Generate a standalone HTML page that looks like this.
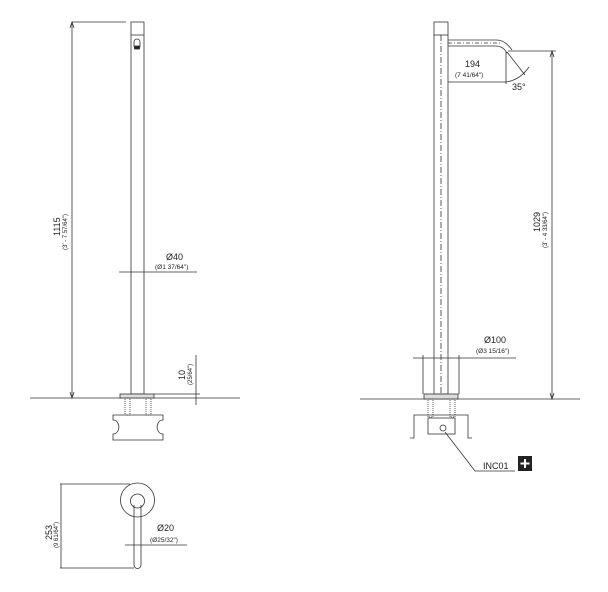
<!DOCTYPE html>
<html><head><style>body{margin:0;background:#fff}svg{display:block}text{font-family:"Liberation Sans",sans-serif;fill:#222}</style></head>
<body>
<svg width="608" height="592" viewBox="0 0 608 592" xmlns="http://www.w3.org/2000/svg" stroke="#333" fill="none" stroke-width="0.8">
<!-- LEFT VIEW -->
<line x1="30" y1="398" x2="240" y2="398"/>
<rect x="131" y="22" width="13" height="372"/>
<line x1="131" y1="35" x2="144" y2="35"/>
<rect x="134" y="39" width="6" height="10" rx="3"/>
<rect x="134.5" y="46" width="5" height="3" fill="#222"/>
<rect x="120" y="394" width="34" height="4" fill="#ddd"/>
<line x1="72" y1="22" x2="126" y2="22"/>
<line x1="72" y1="22" x2="72" y2="398"/>
<path d="M70 28 L72 22 L74 28 M70 392 L72 398 L74 392"/>
<text x="0" y="0" font-size="9" stroke="none" transform="translate(60 236) rotate(-90)">1115</text>
<text x="0" y="0" font-size="6" stroke="none" transform="translate(67 250) rotate(-90)">(3' - 7 57/64")</text>
<line x1="119" y1="272" x2="197" y2="272"/>
<text x="166" y="260" font-size="9" stroke="none">Ø40</text>
<text x="155" y="269" font-size="6.5" stroke="none">(Ø1 37/64")</text>
<line x1="154" y1="394" x2="200" y2="394"/>
<line x1="196" y1="355" x2="196" y2="405"/>
<text x="0" y="0" font-size="9" stroke="none" transform="translate(185 380) rotate(-90)">10</text>
<text x="0" y="0" font-size="6" stroke="none" transform="translate(192 385) rotate(-90)">(25/64")</text>
<rect x="125" y="398" width="5" height="17" stroke-dasharray="1 1"/>
<rect x="146" y="398" width="5" height="17" stroke-dasharray="1 1"/>
<path d="M113 415 H163 V420 Q158 420 157 427 Q158 434 163 434 V440 H113 V434 Q118 434 119 427 Q118 420 113 420 Z"/>
<!-- RIGHT VIEW -->
<line x1="360" y1="399" x2="580" y2="399"/>
<rect x="434" y="22" width="14" height="372"/>
<line x1="434" y1="35" x2="448" y2="35"/>
<line x1="441" y1="35" x2="441" y2="394" stroke-dasharray="6 2 1 2"/>
<path d="M448 40 H497 Q505 40 512 50 M448 46 H496 Q503 46 507 53"/>
<line x1="448" y1="43" x2="500" y2="43" stroke-dasharray="4 2 1 2"/>
<line x1="508" y1="51" x2="556" y2="51"/>
<line x1="552" y1="51" x2="552" y2="399"/>
<path d="M550 57 L552 51 L554 57 M550 393 L552 399 L554 393"/>
<text x="0" y="0" font-size="9" stroke="none" transform="translate(540 232) rotate(-90)">1029</text>
<text x="0" y="0" font-size="6" stroke="none" transform="translate(547 248) rotate(-90)">(3' - 4 33/64")</text>
<line x1="506" y1="52" x2="506" y2="84"/>
<line x1="448" y1="82" x2="506" y2="82"/>
<path d="M507 52 L525 75 M506 82 Q520 80 529 67"/>
<text x="465" y="67" font-size="9" stroke="none">194</text>
<text x="455" y="77" font-size="6.5" stroke="none">(7 41/64")</text>
<text x="512" y="90" font-size="9" stroke="none">35°</text>
<line x1="413" y1="358" x2="516" y2="358"/>
<line x1="423" y1="355" x2="423" y2="394"/>
<line x1="459" y1="355" x2="459" y2="394"/>
<text x="484" y="343" font-size="9" stroke="none">Ø100</text>
<text x="476" y="353" font-size="6.5" stroke="none">(Ø3 15/16")</text>
<rect x="424" y="394" width="34" height="5" fill="#ddd"/>
<rect x="428" y="399" width="5" height="18" stroke-dasharray="1 1"/>
<rect x="450" y="399" width="5" height="18" stroke-dasharray="1 1"/>
<path d="M410 438 H414 V415 H468 V438 H472"/>
<rect x="428" y="418" width="27" height="16"/>
<circle cx="443" cy="428" r="3"/>
<path d="M445 432 L475 471 H515"/>
<text x="483" y="469" font-size="9" stroke="none">INC01</text>
<rect x="518" y="456" width="14" height="15" fill="#222" stroke="none"/>
<path d="M525 459 V468 M520.5 463.5 H529.5" stroke="#fff" stroke-width="2"/>
<!-- BOTTOM VIEW -->
<circle cx="137.5" cy="500" r="17"/>
<circle cx="137.5" cy="501" r="7"/>
<path d="M134 505 V565 A3.5 3.5 0 0 0 141 565 V505"/>
<line x1="60" y1="484" x2="130" y2="484"/>
<line x1="60" y1="568" x2="134" y2="568"/>
<line x1="61" y1="484" x2="61" y2="568"/>
<text x="0" y="0" font-size="9" stroke="none" transform="translate(52 540) rotate(-90)">253</text>
<text x="0" y="0" font-size="6" stroke="none" transform="translate(58 548) rotate(-90)">(9 61/64")</text>
<line x1="125" y1="545" x2="187" y2="545"/>
<text x="157" y="531" font-size="9" stroke="none">Ø20</text>
<text x="150" y="542" font-size="6.5" stroke="none">(Ø25/32")</text>
</svg>
</body></html>
